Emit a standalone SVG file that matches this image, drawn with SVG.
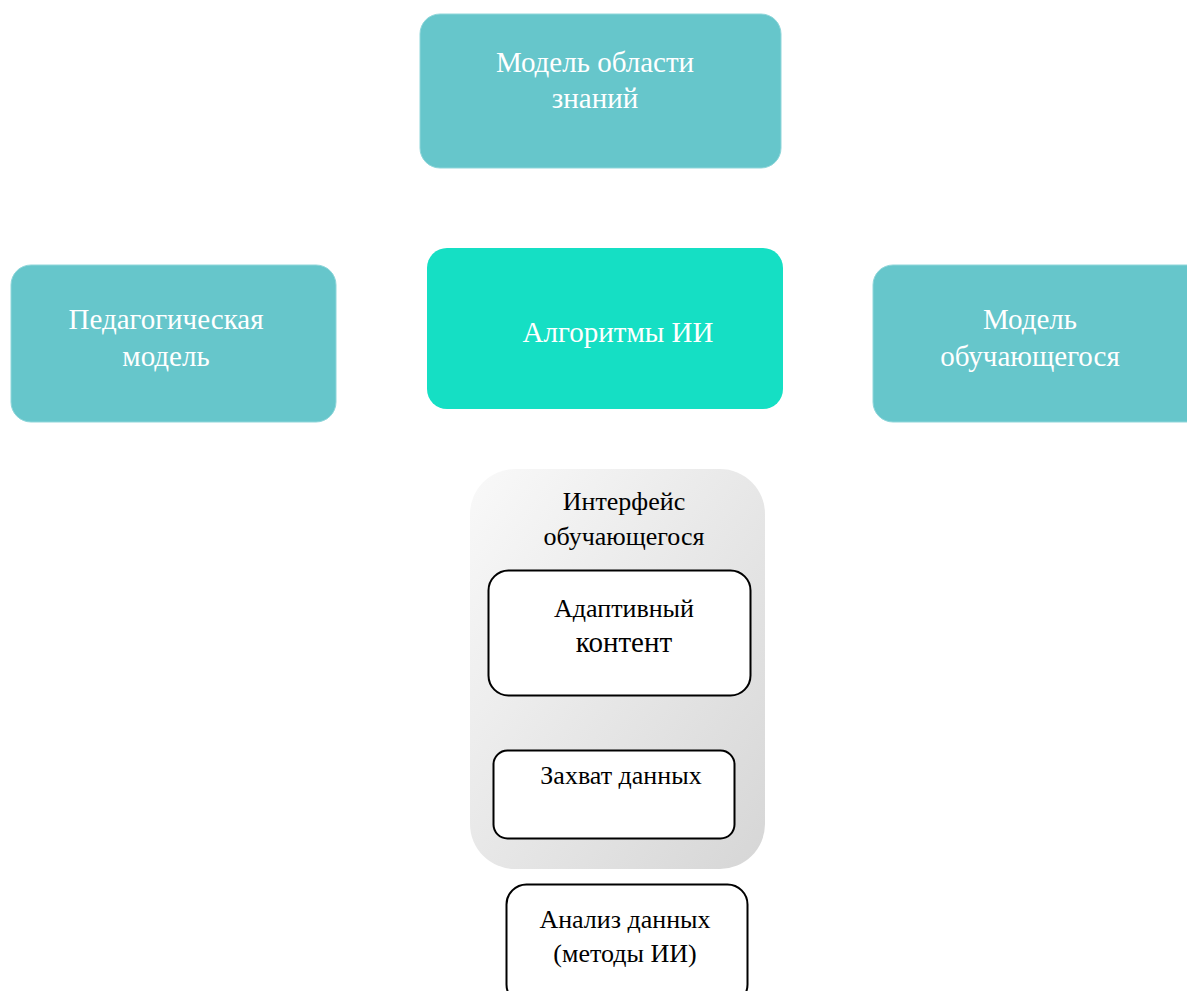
<svg xmlns="http://www.w3.org/2000/svg" width="1187" height="991" viewBox="0 0 1187 991">
  <defs>
    <linearGradient id="panelGrad" x1="0" y1="0" x2="1" y2="1">
      <stop offset="0" stop-color="#f9f9f9"/>
      <stop offset="1" stop-color="#d6d6d6"/>
    </linearGradient>
    <style>
      .teal { fill: #66c6cb; stroke: #8fd6da; stroke-width: 1; }
      .core { fill: #15dfc4; }
      .inner { fill: #ffffff; stroke: #000000; stroke-width: 2; }
      .lw { font-family: "Liberation Serif", "Times New Roman", serif; font-size: 29px; fill: #ffffff; text-anchor: middle; }
      .lb { font-family: "Liberation Serif", "Times New Roman", serif; font-size: 26px; fill: #000000; text-anchor: middle; }
      .big { font-size: 29px; }
    </style>
  </defs>
  <rect width="1187" height="991" fill="#ffffff"/>

  <g id="connectors"></g>

  <g id="domain-model">
    <rect class="teal" x="420" y="14" width="361" height="154" rx="20"/>
    <text class="lw" x="595" y="72">Модель области</text>
    <text class="lw" x="595" y="108">знаний</text>
  </g>

  <g id="ai-algorithms">
    <rect class="core" x="427" y="248" width="356" height="161" rx="20"/>
    <text class="lw" x="618" y="342">Алгоритмы ИИ</text>
  </g>

  <g id="pedagogical-model">
    <rect class="teal" x="11" y="265" width="325" height="157" rx="20"/>
    <text class="lw" x="166" y="329">Педагогическая</text>
    <text class="lw" x="166" y="366">модель</text>
  </g>

  <g id="learner-model">
    <rect class="teal" x="873" y="265" width="340" height="157" rx="20"/>
    <text class="lw" x="1030" y="329">Модель</text>
    <text class="lw" x="1030" y="366">обучающегося</text>
  </g>

  <g id="learner-interface">
    <rect x="470" y="469" width="295" height="400" rx="45" fill="url(#panelGrad)"/>
    <text class="lb" x="624" y="510">Интерфейс</text>
    <text class="lb" x="624" y="545">обучающегося</text>
  </g>

  <g id="adaptive-content">
    <rect class="inner" x="488.5" y="570.5" width="262" height="125" rx="20"/>
    <text class="lb" x="624" y="617">Адаптивный</text>
    <text class="lb big" x="624" y="652">контент</text>
  </g>

  <g id="data-capture">
    <rect class="inner" x="493.5" y="750.5" width="241" height="88" rx="14"/>
    <text class="lb" x="621" y="784">Захват данных</text>
  </g>

  <g id="data-analysis">
    <rect class="inner" x="506.5" y="884.5" width="241" height="120" rx="20"/>
    <text class="lb" x="625" y="928">Анализ данных</text>
    <text class="lb" x="625" y="962">(методы ИИ)</text>
  </g>
</svg>
